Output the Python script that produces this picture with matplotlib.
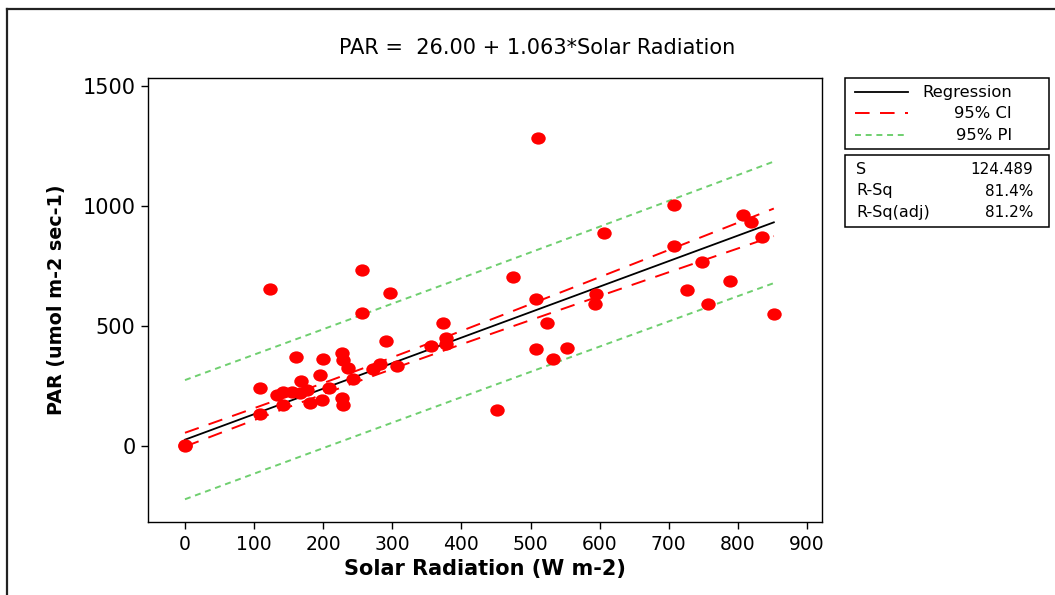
import numpy as np
import matplotlib
matplotlib.use("Agg")
import matplotlib.pyplot as plt
from matplotlib.path import Path
from matplotlib.lines import Line2D
from matplotlib.patches import Rectangle

# Observations: solar radiation (W m-2) and PAR (umol m-2 sec-1)
solar = [0, 0, 123, 256, 297, 256, 373, 161, 200, 291, 227, 229, 236, 243,
         168, 195, 208, 109, 133, 142, 155, 166, 177, 142, 181, 198, 227,
         229, 109, 272, 282, 307, 356, 378, 378, 511, 708, 606, 475, 508,
         595, 593, 708, 807, 819, 835, 748, 726, 789, 757, 852, 524, 508,
         553, 532, 451]
par = [0, 5, 654, 733, 638, 554, 513, 371, 363, 438, 388, 358, 325, 279,
       271, 296, 242, 242, 213, 225, 225, 221, 233, 171, 179, 192, 200,
       171, 133, 321, 342, 333, 417, 450, 425, 1283, 1004, 888, 704, 613,
       633, 592, 833, 963, 933, 871, 767, 650, 688, 592, 550, 513, 404,
       408, 363, 150]

# Fitted model and its summary statistics
intercept = 26.00
slope = 1.063
s_err = 124.489
r_sq = 81.4
r_sq_adj = 81.2
n_obs = 114
x_mean = 209.0
sxx = 9.1e6
t_crit = 1.981

x_ticks = [0, 100, 200, 300, 400, 500, 600, 700, 800, 900]
y_ticks = [0, 500, 1000, 1500]

W, H = 1055, 595
plt.rcParams["lines.scale_dashes"] = False
plt.rcParams["font.family"] = ["DejaVu Sans"]


def fx(px):
    return px / W


def fy(py):
    return 1 - py / H


fig = plt.figure(figsize=(W / 100, H / 100), dpi=100)
ax = fig.add_axes([fx(148), fy(522), (822 - 148) / W, (522 - 78) / H])

# Regression line with confidence and prediction bands
xg = np.linspace(min(solar), max(solar), 200)
fit = intercept + slope * xg
se_mean = s_err * np.sqrt(1.0 / n_obs + (xg - x_mean) ** 2 / sxx)
se_pred = s_err * np.sqrt(1.0 + 1.0 / n_obs + (xg - x_mean) ** 2 / sxx)

ci_style = dict(color="#ff0000", lw=1.4, dashes=(10.5, 7.5))
pi_style = dict(color="#6fcf6f", lw=1.4, dashes=(4.3, 3.4))
reg_style = dict(color="black", lw=1.3)

ax.plot(xg, fit + t_crit * se_pred, **pi_style, zorder=2)
ax.plot(xg, fit - t_crit * se_pred, **pi_style, zorder=2)
ax.plot(xg, fit + t_crit * se_mean, **ci_style, zorder=2)
ax.plot(xg, fit - t_crit * se_mean, **ci_style, zorder=2)
ax.plot(xg, fit, **reg_style, zorder=3)

# Slightly flattened round marker
circ = Path.unit_circle()
oval = Path(circ.vertices * np.array([1.0, 0.85]), circ.codes)
ax.plot(solar, par, linestyle="none", marker=oval, markersize=10.4,
        color="#ff0000", markeredgewidth=0, zorder=4)

ax.set_xlim(-53.5, 921.7)
ax.set_ylim(-317, 1533)
ax.set_xticks(x_ticks)
ax.set_yticks(y_ticks)
ax.tick_params(direction="out", length=5, width=1, pad=4, colors="black")
ax.tick_params(axis="x", labelsize=13.5)
ax.tick_params(axis="y", labelsize=15)
for sp in ax.spines.values():
    sp.set_linewidth(1.0)
    sp.set_color("black")

ax.set_xlabel("Solar Radiation (W m-2)", fontsize=15, fontweight="bold",
              labelpad=4)
ax.set_ylabel("PAR (umol m-2 sec-1)", fontsize=13.8, fontweight="bold",
              labelpad=12)

fig.text(fx(537), fy(48),
         f"PAR =  {intercept:.2f} + {slope:.3f}*Solar Radiation",
         ha="center", va="center", fontsize=15)

# Outer frame
frame_kw = dict(transform=fig.transFigure, color="#222222", lw=1.6)
fig.add_artist(Line2D([fx(7), fx(7)], [0, fy(9)], **frame_kw))
fig.add_artist(Line2D([fx(7), 1], [fy(9), fy(9)], **frame_kw))

# Legend box
fig.add_artist(Rectangle((fx(845), fy(149)), (1049 - 845) / W, (149 - 78) / H,
                         transform=fig.transFigure, fill=False,
                         edgecolor="black", lw=1.1))
legend_rows = [("Regression", reg_style, 92),
               ("95% CI", ci_style, 113),
               ("95% PI", pi_style, 135)]
for label, style, ypx in legend_rows:
    fig.add_artist(Line2D([fx(855), fx(908)], [fy(ypx), fy(ypx)],
                          transform=fig.transFigure, **style))
    fig.text(fx(1012), fy(ypx), label, ha="right", va="center", fontsize=11.8)

# Summary statistics box
fig.add_artist(Rectangle((fx(845), fy(227)), (1049 - 845) / W, (227 - 155) / H,
                         transform=fig.transFigure, fill=False,
                         edgecolor="black", lw=1.1))
stats_rows = [("S", f"{s_err:.3f}", 170),
              ("R-Sq", f"{r_sq:.1f}%", 191),
              ("R-Sq(adj)", f"{r_sq_adj:.1f}%", 212)]
for name, val, ypx in stats_rows:
    fig.text(fx(856), fy(ypx), name, ha="left", va="center", fontsize=11.5)
    fig.text(fx(1033), fy(ypx), val, ha="right", va="center", fontsize=11)

fig.savefig("out.png", dpi=100, facecolor="white")
